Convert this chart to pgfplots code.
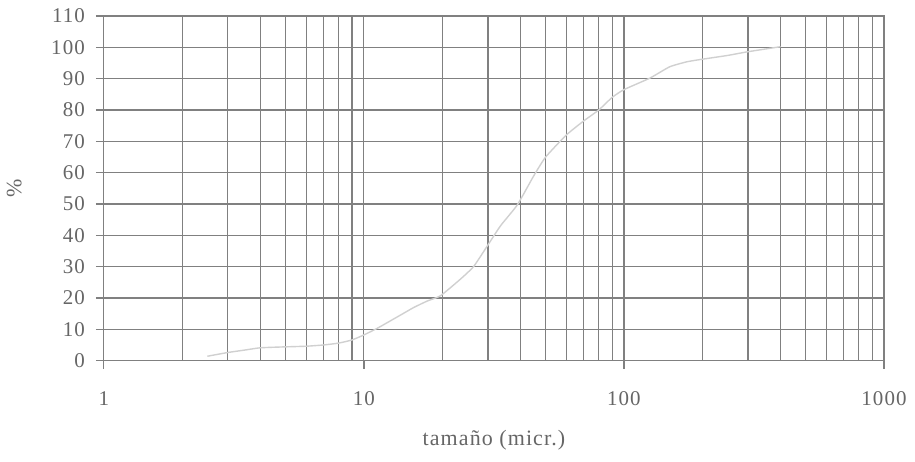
\documentclass[border=0pt]{standalone}
\usepackage{pgfplots}
\pgfplotsset{compat=1.18}
\usepackage{fontspec}
\setmainfont{Liberation Serif}[LetterSpace=5]
\definecolor{gridc}{HTML}{808080}
\definecolor{txtc}{HTML}{666666}
\definecolor{curvec}{HTML}{D0D0D0}

% cumulative size distribution
\pgfplotstableread{
x y
2.5 1.4
3 2.6
3.5 3.4
4 4.1
5 4.4
6 4.6
7 5.0
8 5.6
9 6.6
10 8.2
11.3 10.4
13.8 14.5
15.5 16.9
17.5 19.0
19.7 20.7
23.5 26
26.4 30
29.5 36
33.5 43
38.9 49.7
45 59
50 65
60 72
70 76.5
80 80
90 84
100 86.5
126 90.2
150 93.8
175 95.4
200 96.2
250 97.4
300 98.6
400 100.2
}\curvedata

\begin{document}
\begin{tikzpicture}[x=1pt,y=1pt]
\begin{axis}[
  width=390.5pt, height=172.5pt,
  scale only axis,
  xmode=log, log basis x=10,
  xmin=1, xmax=1000, ymin=0, ymax=110,
  xtick={1,10,100,1000},
  xticklabels={1,10,100,1000},
  minor xtick={2,3,4,5,6,7,8,9,20,30,40,50,60,70,80,90,200,300,400,500,600,700,800,900},
  ytick={0,10,...,110},
  grid=both,
  major grid style={gridc, line width=0.55pt},
  minor grid style={gridc, line width=0.55pt},
  axis line style={gridc, line width=0.6pt},
  tick style={gridc, line width=0.6pt},
  major tick length=4pt,
  minor tick length=0pt,
  tick align=outside,
  xtick pos=bottom, ytick pos=left,
  /pgf/number format/assume math mode=true,
  tick label style={font=\fontsize{10.5}{12}\selectfont, text=txtc},
  xticklabel style={yshift=-8pt},
  yticklabel style={xshift=-2pt},
  xlabel={tamaño (micr.)},
  ylabel={\%},
  label style={font=\fontsize{11}{13}\selectfont, text=txtc},
  xlabel style={at={(axis description cs:0.5,-0.23)}, anchor=center},
  ylabel style={at={(axis description cs:-0.115,0.5)}, anchor=center},
  clip=false,
]
\addplot[curvec, line width=0.7pt, smooth, tension=0.3] table[x=x,y=y] {\curvedata};
\useasboundingbox (axis description cs:-0.1319,-0.2928) rectangle (axis description cs:1.0397,1.0464);
\end{axis}
\end{tikzpicture}
\end{document}
